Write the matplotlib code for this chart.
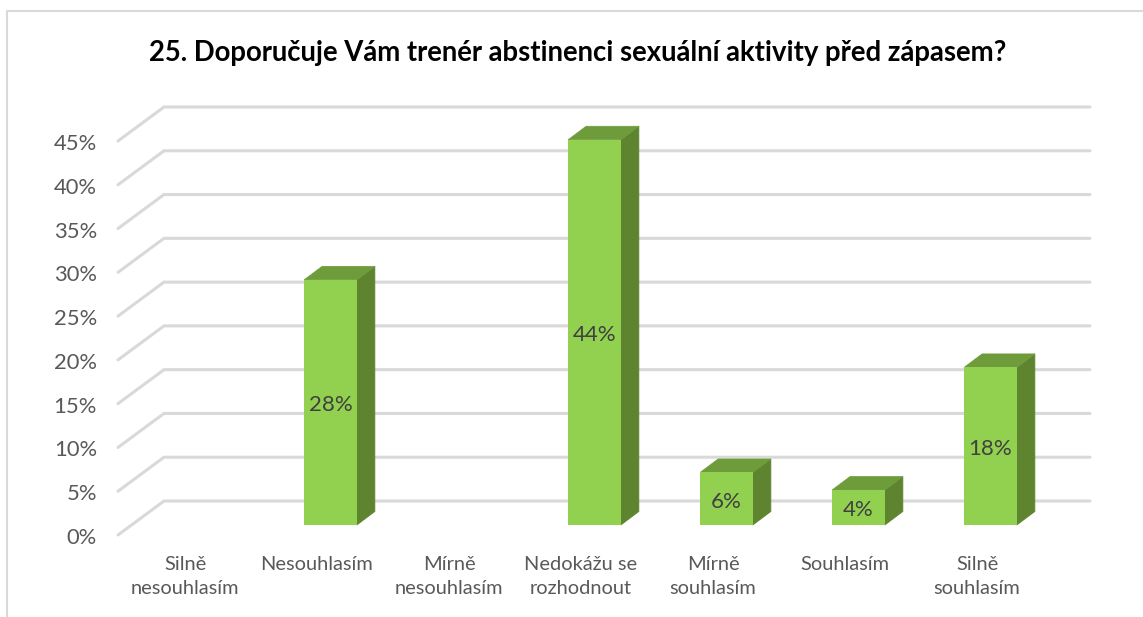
import matplotlib
matplotlib.use('Agg')
import matplotlib.pyplot as plt
from matplotlib.lines import Line2D
from matplotlib.patches import Polygon

plt.rcParams['font.family'] = ['Lato', 'DejaVu Sans']

# ── Data ─────────────────────────────────────────────────────────────────────
TITLE = '25. Doporučuje Vám trenér abstinenci sexuální aktivity před zápasem?'
categories = ['Silně\nnesouhlasím', 'Nesouhlasím', 'Mírně\nnesouhlasím',
              'Nedokážu se\nrozhodnout', 'Mírně\nsouhlasím', 'Souhlasím',
              'Silně\nsouhlasím']
values = [0, 28, 0, 44, 6, 4, 18]
y_ticks = [0, 5, 10, 15, 20, 25, 30, 35, 40, 45]

# ── Style ────────────────────────────────────────────────────────────────────
W, H = 1143, 617
FRONT = '#92D050'
SIDE = '#5F8430'
TOP = '#6F9C3B'
GRID = '#D9D9D9'
TEXT = '#595959'
BAR_W = 0.4

fig = plt.figure(figsize=(W / 100, H / 100), dpi=100)
# axes = plane of the bar fronts: x 132.5..1056.5 px, y 525..131 px
ax = fig.add_axes([132.5 / W, 1 - 525 / H, 924 / W, 394 / H])
ax.set_xlim(-0.5, 6.5)
ax.set_ylim(0, 45)
ax.axis('off')

# depth offsets in data units (px / px-per-unit)
px_x = 132.0
px_y = 394 / 45
bar_dx, bar_dy = 18 / px_x, 13.5 / px_y
back_dx, back_dy = 31.5 / px_x, 24 / px_y
front_dx, front_dy = -14.5 / px_x, -10 / px_y
right_end = 6.5 + 33.5 / px_x

# gridlines with the slanted part on the left wall
for v in y_ticks:
    ax.plot([-0.5 + front_dx, -0.5 + back_dx, right_end],
            [v + front_dy, v + back_dy, v + back_dy],
            color=GRID, lw=2.2, clip_on=False, zorder=1,
            solid_capstyle='round', solid_joinstyle='miter')
    ax.text(-0.5 + front_dx - 21 / px_x, v + front_dy - 3 / px_y, f'{v}%',
            ha='right', va='center', fontsize=15.8, color=TEXT)

for i, (name, v) in enumerate(zip(categories, values)):
    ax.text(i - 13.5 / px_x, -30.5 / px_y, name, ha='center', va='top',
            fontsize=14.4, color=TEXT, linespacing=1.55)
    if v == 0:
        continue
    l, r = i - BAR_W / 2, i + BAR_W / 2
    ax.add_patch(Polygon([(r, 0), (r + bar_dx, bar_dy), (r + bar_dx, v + bar_dy), (r, v)],
                         fc=SIDE, ec=SIDE, lw=0.5, zorder=3, clip_on=False))
    ax.add_patch(Polygon([(l, v), (r, v), (r + bar_dx, v + bar_dy), (l + bar_dx, v + bar_dy)],
                         fc=TOP, ec=TOP, lw=0.5, zorder=3, clip_on=False))
    ax.bar(i, v, width=BAR_W, color=FRONT, zorder=4)
    ax.text(i, v / 2 - 3 / px_y, f'{v}%', ha='center', va='center', fontsize=16,
            color='#404040', zorder=5)

# chart frame, cut by the page edge
fig.add_artist(Line2D([7 / W, 7 / W, 1], [0, 1 - 11 / H, 1 - 11 / H], color=GRID, lw=1.5))

fig.text(578 / W, 1 - 53 / H, TITLE, ha='center', va='center',
         fontsize=19.85, fontweight='bold', color='black')

fig.savefig('out.png', dpi=100)
